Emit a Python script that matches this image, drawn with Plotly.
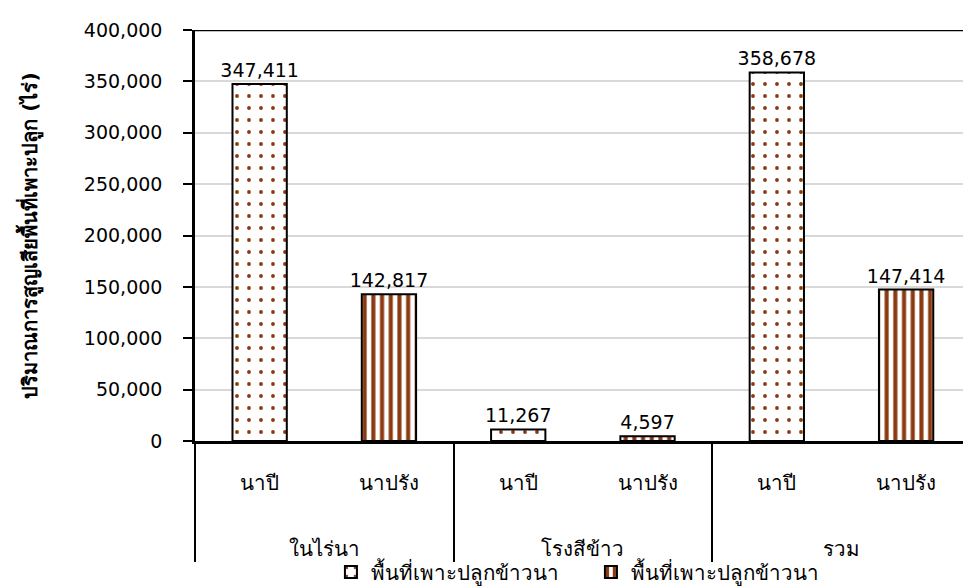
import plotly.graph_objects as go

groups = ["ในไร่นา", "ในไร่นา", "โรงสีข้าว", "โรงสีข้าว", "รวม", "รวม"]
seasons = ["นาปี", "นาปรัง", "นาปี", "นาปรัง", "นาปี", "นาปรัง"]
series_names = ["พื้นที่เพาะปลูกข้าวนา", "พื้นที่เพาะปลูกข้าวนา"]
napi_values = [347411, None, 11267, None, 358678, None]
naprang_values = [None, 142817, None, 4597, None, 147414]
y_title = "ปริมาณการสูญเสียพื้นที่เพาะปลูก (ไร่)"

BROWN = "#8B3A10"
FONT = "DejaVu Sans, Noto Sans, sans-serif"
NUM_SIZE = 19
TXT_SIZE = 20.5

# invisible spacer glyphs to open up the gap between the two label rows
PAD_BIG = "<span style='font-size:51px;color:rgba(0,0,0,0)'>.</span>"
PAD_LINE = "<span style='color:rgba(0,0,0,0)'>.</span><br>"
sub_labels = [PAD_BIG + s + PAD_BIG for s in seasons]
group_labels = [PAD_LINE + g for g in groups]
x_cats = [group_labels, sub_labels]

fig = go.Figure()
fig.add_trace(go.Bar(
    x=x_cats, y=napi_values, name=series_names[0],
    width=0.42,
    marker=dict(color="white", line=dict(color="black", width=2),
                pattern=dict(shape=".", fgcolor=BROWN, bgcolor="white", fgopacity=1,
                             size=12, solidity=0.08, fillmode="overlay")),
    texttemplate="%{y:,}", textposition="outside", constraintext="none",
    textfont=dict(size=NUM_SIZE, color="black"), cliponaxis=False,
))
fig.add_trace(go.Bar(
    x=x_cats, y=naprang_values, name=series_names[1],
    width=0.42,
    marker=dict(color="white", line=dict(color="black", width=2),
                pattern=dict(shape="|", fgcolor=BROWN, bgcolor="white", fgopacity=1,
                             size=8.7, solidity=0.47, fillmode="overlay")),
    texttemplate="%{y:,}", textposition="outside", constraintext="none",
    textfont=dict(size=NUM_SIZE, color="black"), cliponaxis=False,
))

fig.add_shape(type="line", xref="paper", yref="y", x0=0, x1=1, y0=400000, y1=400000,
              line=dict(color="black", width=2.5), layer="above")

fig.update_layout(
    width=963, height=587, autosize=False,
    margin=dict(l=195, r=0, t=30, b=146, autoexpand=False),
    barmode="overlay",
    plot_bgcolor="white", paper_bgcolor="white",
    font=dict(family=FONT, size=TXT_SIZE, color="black"),
    showlegend=True,
    legend=dict(orientation="h", x=0.177, xanchor="left", y=-0.319, yanchor="middle",
                font=dict(size=TXT_SIZE), traceorder="normal",
                entrywidth=215, entrywidthmode="pixels",
                bgcolor="rgba(0,0,0,0)"),
    xaxis=dict(type="multicategory", range=[-0.5, 5.44],
               showline=True, linecolor="black", linewidth=2.5,
               showdividers=True, dividercolor="black", dividerwidth=2,
               ticks="", tickfont=dict(size=TXT_SIZE), showgrid=False,
               ticklabelstandoff=22),
    yaxis=dict(range=[0, 400000], dtick=50000, tickformat=",",
               showline=True, linecolor="black", linewidth=2.5,
               ticks="outside", ticklen=9, tickwidth=2, tickcolor="black",
               ticklabelstandoff=17,
               showgrid=True, gridcolor="#d9d9d9", gridwidth=1.5,
               zeroline=False, tickfont=dict(size=NUM_SIZE),
               title=dict(text="<b>" + y_title + "</b>", font=dict(size=20), standoff=41)),
)

fig.write_html("out.html")
